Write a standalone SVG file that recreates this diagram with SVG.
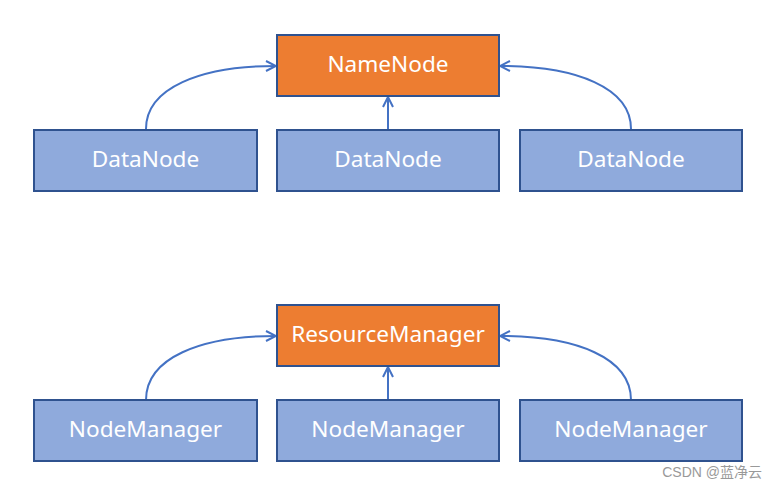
<svg xmlns="http://www.w3.org/2000/svg" width="777" height="488" viewBox="0 0 777 488">
<style>
.o{fill:#ED7D31;stroke:#2F528F;stroke-width:2}
.b{fill:#8FAADC;stroke:#2F528F;stroke-width:2}
.t{font-family:"Noto Sans","Open Sans",sans-serif;font-size:22.6px;fill:#fff;text-anchor:middle;dominant-baseline:central}
.c{fill:none;stroke:#4472C4;stroke-width:2;marker-end:url(#ar)}
</style>
<defs>
<marker id="ar" viewBox="0 0 12 12" refX="11" refY="6" markerWidth="12" markerHeight="12" markerUnits="userSpaceOnUse" orient="auto">
<path d="M1,1 L11,6 L1,11" fill="none" stroke="#4472C4" stroke-width="2"/>
</marker>
</defs>
<rect width="777" height="488" fill="#fff"/>
<g id="connectors">
<path class="c" d="M146,129 C146,88 200,66 276,66"/>
<path class="c" d="M388,129 L388,97"/>
<path class="c" d="M631,129 C631,88 577,66 500,66"/>
<path class="c" d="M146,400 C146,358 200,336 276,336"/>
<path class="c" d="M388,400 L388,367"/>
<path class="c" d="M631,400 C631,358 577,336 500,336"/>
</g>
<g id="namenode"><rect class="o" x="277" y="35" width="222" height="61"/><text class="t" x="388" y="63.5">NameNode</text></g>
<g id="datanode1"><rect class="b" x="34" y="130" width="223" height="61"/><text class="t" x="145.5" y="158.5">DataNode</text></g>
<g id="datanode2"><rect class="b" x="277" y="130" width="222" height="61"/><text class="t" x="388" y="158.5">DataNode</text></g>
<g id="datanode3"><rect class="b" x="520" y="130" width="222" height="61"/><text class="t" x="631" y="158.5">DataNode</text></g>
<g id="resourcemanager"><rect class="o" x="277" y="305" width="222" height="61"/><text class="t" x="388" y="333.5">ResourceManager</text></g>
<g id="nodemanager1"><rect class="b" x="34" y="400" width="223" height="61"/><text class="t" x="145.5" y="428.5">NodeManager</text></g>
<g id="nodemanager2"><rect class="b" x="277" y="400" width="222" height="61"/><text class="t" x="388" y="428.5">NodeManager</text></g>
<g id="nodemanager3"><rect class="b" x="520" y="400" width="222" height="61"/><text class="t" x="631" y="428.5">NodeManager</text></g>
<text x="762" y="477" text-anchor="end" font-family="'Liberation Sans','Noto Sans CJK SC',sans-serif" font-size="14" fill="#999">CSDN @蓝净云</text>
</svg>
